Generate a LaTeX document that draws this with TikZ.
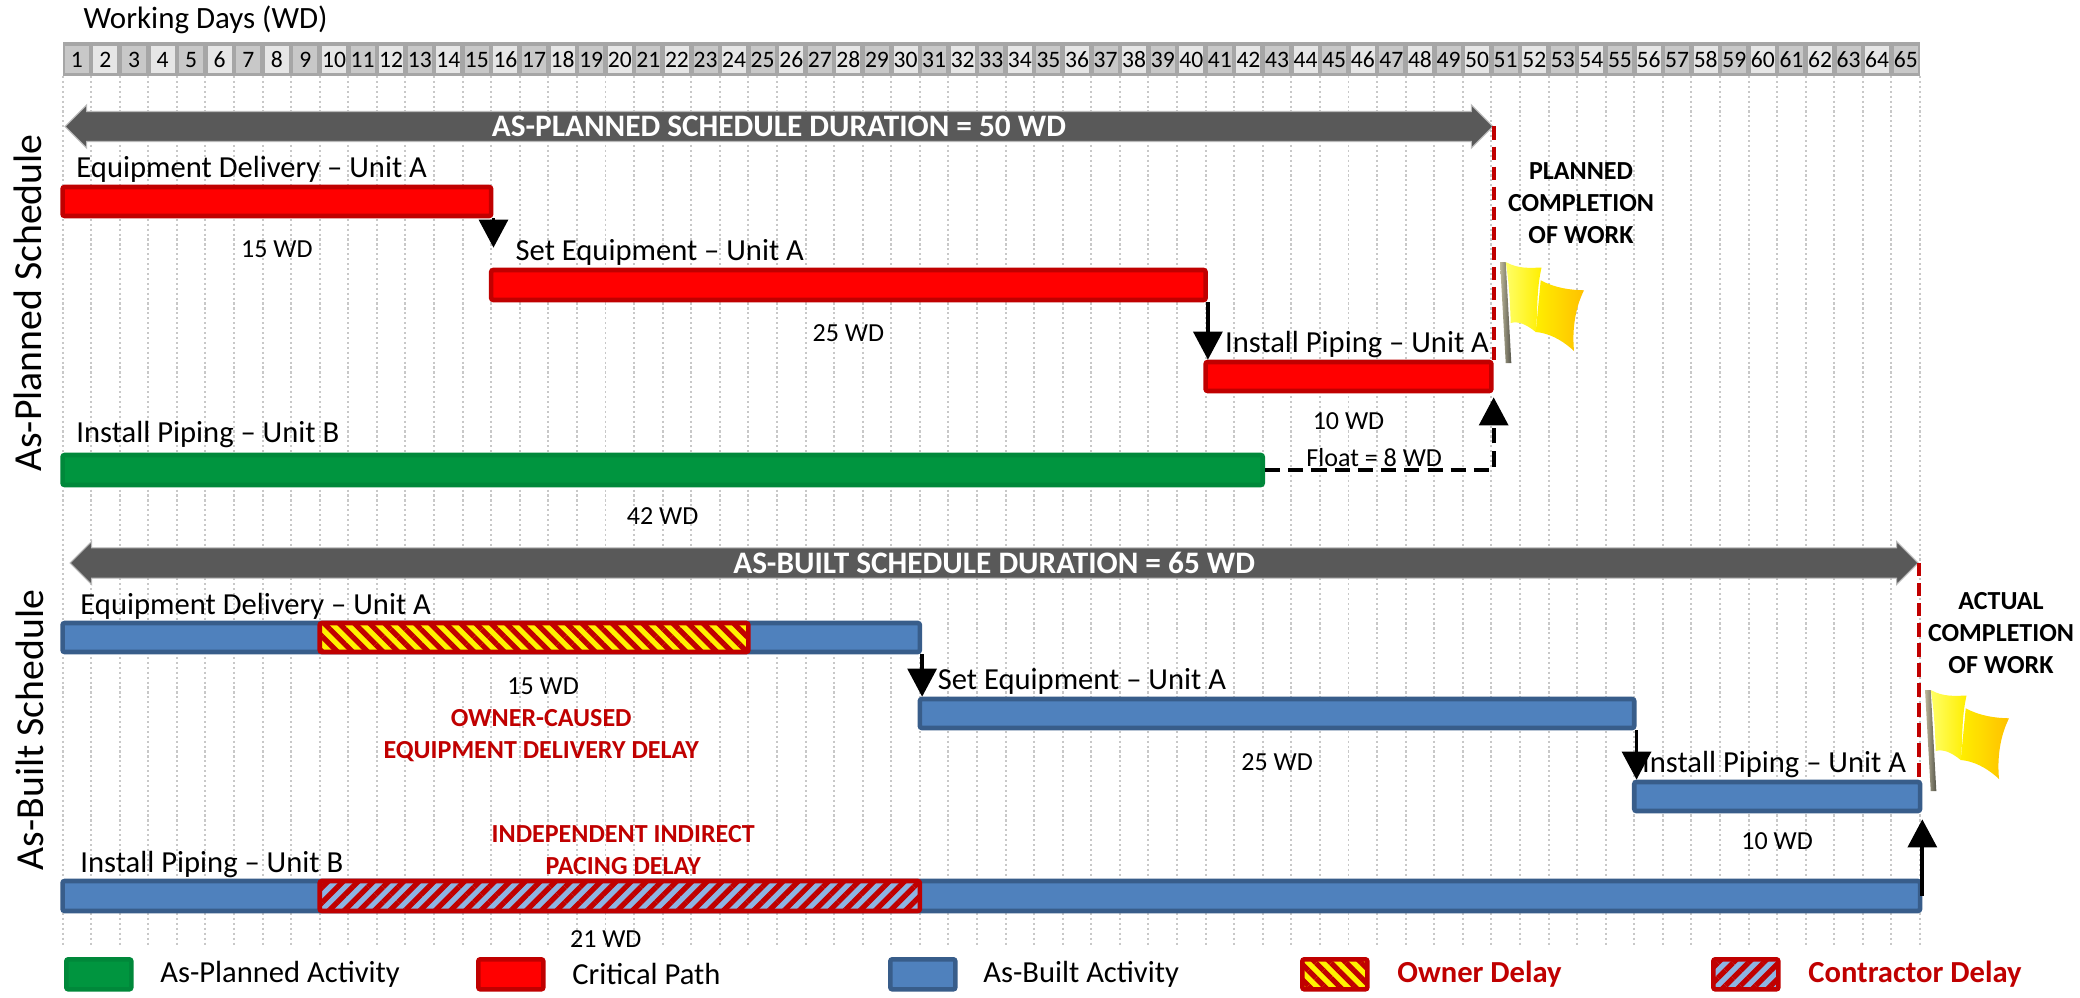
\documentclass[tikz,border=0pt]{standalone}
\usepackage{fontspec}
\setmainfont{Carlito}
\usetikzlibrary{arrows.meta,positioning,fit,shapes.arrows,patterns.meta}

\definecolor{cpred}{HTML}{FF0000}
\definecolor{cpedge}{HTML}{C00000}
\definecolor{apgreen}{HTML}{00953F}
\definecolor{apedge}{HTML}{00883A}
\definecolor{abblue}{HTML}{4F81BD}
\definecolor{abedge}{HTML}{385D8A}
\definecolor{ltblue}{HTML}{8DB4E2}
\definecolor{banddark}{HTML}{595959}
\definecolor{hdrdark}{HTML}{C8C8C8}
\definecolor{hdrlight}{HTML}{E6E6E6}
\definecolor{hdrframe}{HTML}{A6A6A6}
\definecolor{gridgray}{HTML}{C8C8C8}
\definecolor{polelt}{HTML}{BDB89A}
\definecolor{poledk}{HTML}{55544A}
\definecolor{flaglt}{HTML}{FFFF66}
\definecolor{flagyel}{HTML}{FFEE00}
\definecolor{flagorg}{HTML}{FFC000}

\tikzstyle{bar}=[rectangle, inner sep=0pt, line width=1.3pt, rounded corners=0.6pt]
\tikzstyle{cpbar}=[bar, fill=cpred, draw=cpedge]
\tikzstyle{apbar}=[bar, fill=apgreen, draw=apedge]
\tikzstyle{abbar}=[bar, fill=abblue, draw=abedge]
\tikzstyle{ownerbar}=[bar, draw=cpedge, preaction={fill=yellow}, pattern={Lines[angle=-45,distance=3.05pt,line width=1.5pt]}, pattern color=cpedge]
\tikzstyle{contrbar}=[bar, draw=cpedge, preaction={fill=ltblue}, pattern={Lines[angle=45,distance=3.05pt,line width=1.5pt]}, pattern color=cpedge]
\tikzstyle{durarrow}=[double arrow, fill=banddark, draw=gray!55, line width=0.3pt, text=white, font=\bfseries\fontsize{8.9}{10}\selectfont, minimum width=0.43cm, double arrow head extend=0.055cm, double arrow tip angle=90, inner sep=0.5pt]
\tikzstyle{dep}=[draw=black, line width=1.1pt, -{Triangle[width=8.2pt,length=8pt]}]
\tikzstyle{floatln}=[dep, dash pattern=on 4.3pt off 2.3pt]
\tikzstyle{compl}=[draw=cpedge, line width=1.15pt, dash pattern=on 3.8pt off 1.9pt]
\tikzstyle{gridln}=[draw=gridgray, line width=0.55pt, dash pattern=on 0.6pt off 0.8pt]

\tikzset{
  flagpic/.pic={
    \shade[left color=polelt, right color=poledk] (0,0) -- (5.7,0) -- (11.3,101) -- (5.7,101) -- cycle;
    \shade[left color=flagyel, right color=flagorg] (40.7,18.3) .. controls (55,26) and (70,28) .. (84,28.3)
      .. controls (75,46) and (72,68) .. (74,89)
      .. controls (61,77) and (48,71) .. (35.7,70) -- cycle;
    \shade[left color=flaglt, right color=flagyel] (5.7,0) .. controls (18,7) and (30,6) .. (41.5,5.5)
      .. controls (36,30) and (38,50) .. (35.7,70)
      .. controls (26,62) and (18,59) .. (10.7,61)
      .. controls (10,40) and (9,20) .. (5.7,0) -- cycle;
  }
}

\begin{document}
\begin{tikzpicture}[
    x=0.01cm, y=-0.01cm,
    hdrnum/.style={inner sep=0pt, font=\fontsize{6.7}{8}\selectfont},
    lbl/.style={inner sep=0pt, anchor=base west, font=\fontsize{8.7}{10}\selectfont},
    dur/.style={inner sep=0pt, anchor=base, font=\fontsize{7.4}{9}\selectfont},
    redtxt/.style={inner sep=0pt, align=center, text=cpedge, font=\bfseries\fontsize{7.4}{9.1}\selectfont},
    compltxt/.style={inner sep=0pt, align=center, font=\bfseries\fontsize{7.4}{9.1}\selectfont},
    vlbl/.style={inner sep=0pt, rotate=90, font=\fontsize{11.3}{13}\selectfont},
    legtxt/.style={inner sep=0pt, font=\fontsize{8.7}{10}\selectfont},
    legbox/.style={minimum width=0.65cm, minimum height=0.30cm, anchor=north west}
    ]
    \useasboundingbox[fill=white] (0,0) rectangle (2080,997);

    \node[anchor=base west, inner sep=0pt, font=\fontsize{8.8}{10}\selectfont] (wdTitle) at (83,29) {Working Days (WD)};

    % one x unit = one working day
    \begin{scope}[x=0.2856cm, xshift=0.625cm]
    \fill[hdrframe] (0,42) rectangle (65,76);
    \foreach \n in {1,...,65}{
        \ifodd\n\def\hc{hdrdark}\else\def\hc{hdrlight}\fi
        \fill[\hc] (\n-0.92,46) rectangle (\n-0.08,73);
        \node[hdrnum] (h\n) at (\n-0.5,60) {\n};
    }
    \foreach \k in {0,...,65}
        \draw[gridln] (\k,76) -- (\k,945);

    \node[durarrow, minimum height={49.96*0.2856cm}] (plDur) at (25.07,126.5) {AS-PLANNED SCHEDULE DURATION = 50 WD};
    \node[durarrow, minimum height={64.67*0.2856cm}] (abDur) at (32.6,563) {AS-BUILT SCHEDULE DURATION = 65 WD};

    % as-planned
    \node[cpbar, fit={(0,187) (15,216)}] (edA) {};
    \node[cpbar, fit={(15,270) (40,300)}] (seA) {};
    \node[cpbar, fit={(40,362) (50,391)}] (ipA) {};
    \node[apbar, fit={(0,455) (42,485)}] (ipB) {};

    \node[lbl] (edAt) at ([xshift=0.155cm, yshift=0.07cm]edA.north west) {Equipment Delivery – Unit A};
    \node[lbl] (seAt) at ([xshift=0.26cm, yshift=0.07cm]seA.north west) {Set Equipment – Unit A};
    \node[lbl] (ipAt) at ([xshift=0.21cm, yshift=0.07cm]ipA.north west) {Install Piping – Unit A};
    \node[lbl] (ipBt) at ([xshift=0.155cm, yshift=0.10cm]ipB.north west) {Install Piping – Unit B};

    \node[dur] (edAd) at ([yshift=-0.39cm]edA.south) {15 WD};
    \node[dur] (seAd) at ([yshift=-0.39cm]seA.south) {25 WD};
    \node[dur] (ipAd) at ([yshift=-0.36cm]ipA.south) {10 WD};
    \node[dur] (ipBd) at ([yshift=-0.37cm]ipB.south) {42 WD};
    \node[dur] (fltd) at (45.9,466) {Float = 8 WD};

    \draw[dep, shorten >=0.2cm] (edA.south east) -- (edA.south east |- seA.north);
    \draw[dep] (seA.south east) -- (seA.south east |- ipA.north);
    \draw[floatln, shorten >=0.04cm] (ipB.east) -| (ipA.south east);
    \draw[compl] (plDur.east) -- (plDur.east |- ipA.north);

    % as-built
    \node[abbar, fit={(0,623) (30,652)}] (bedA) {};
    \node[ownerbar, fit={(9,623) (24,652)}] (ownDly) {};
    \node[abbar, fit={(30,699) (55,728)}] (bseA) {};
    \node[abbar, fit={(55,782) (65,811)}] (bipA) {};
    \node[abbar, fit={(0,881) (65,911)}] (bipB) {};
    \node[contrbar, fit={(9,881) (30,911)}] (conDly) {};

    \node[lbl] (bedAt) at ([xshift=0.195cm, yshift=0.06cm]bedA.north west) {Equipment Delivery – Unit A};
    \node[lbl] (bseAt) at ([xshift=0.195cm, yshift=0.07cm]bseA.north west) {Set Equipment – Unit A};
    \node[lbl] (bipAt) at ([xshift=0.095cm, yshift=0.07cm]bipA.north west) {Install Piping – Unit A};
    \node[lbl] (bipBt) at ([xshift=0.195cm, yshift=0.06cm]bipB.north west) {Install Piping – Unit B};

    \node[dur] (ownd) at ([xshift=0.09cm, yshift=-0.40cm]ownDly.south) {15 WD};
    \node[dur] (bseAd) at ([yshift=-0.40cm]bseA.south) {25 WD};
    \node[dur] (bipAd) at ([yshift=-0.36cm]bipA.south) {10 WD};
    \node[dur] (cond) at ([xshift=-0.14cm, yshift=-0.34cm]conDly.south) {21 WD};

    \node[redtxt] (ownNote) at (16.75,736) {OWNER-CAUSED\\EQUIPMENT DELIVERY DELAY};
    \node[redtxt] (conNote) at (19.62,850) {INDEPENDENT INDIRECT\\PACING DELAY};

    \draw[dep] (bedA.south east) -- (bedA.south east |- bseA.north);
    \draw[dep] (bseA.south east) -- (bseA.south east |- bipA.north);
    \draw[dep, shorten >=0.06cm] (bipB.east) -- (bipA.south east);
    \draw[compl] (abDur.east) -- (abDur.east |- bipA.north);
    \end{scope}

    \node[compltxt] (plDone) at (1581,203) {PLANNED\\COMPLETION\\OF WORK};
    \node[compltxt] (abDone) at (2001,633) {ACTUAL\\COMPLETION\\OF WORK};
    \pic at (1500,262) {flagpic};
    \pic at (1925,690) {flagpic};

    \node[vlbl] (apLbl) at (28,303) {As-Planned Schedule};
    \node[vlbl] (abLbl) at (30,730) {As-Built Schedule};

    % legend
    \node[apbar, legbox] (lgAP) at (64,957) {};
    \node[legtxt, right=0.26cm of lgAP] (lgAPt) {As-Planned Activity};
    \node[cpbar, legbox] (lgCP) at (476,957) {};
    \node[legtxt, right=0.26cm of lgCP] (lgCPt) {Critical Path};
    \node[abbar, legbox] (lgAB) at (888,957) {};
    \node[legtxt, right=0.25cm of lgAB] (lgABt) {As-Built Activity};
    \node[ownerbar, legbox] (lgOwn) at (1300,957) {};
    \node[legtxt, text=cpedge, font=\bfseries\fontsize{8.7}{10}\selectfont, right=0.27cm of lgOwn] (lgOwnt) {Owner Delay};
    \node[contrbar, legbox] (lgCon) at (1711,957) {};
    \node[legtxt, text=cpedge, font=\bfseries\fontsize{8.7}{10}\selectfont, right=0.27cm of lgCon] (lgCont) {Contractor Delay};
\end{tikzpicture}
\end{document}
